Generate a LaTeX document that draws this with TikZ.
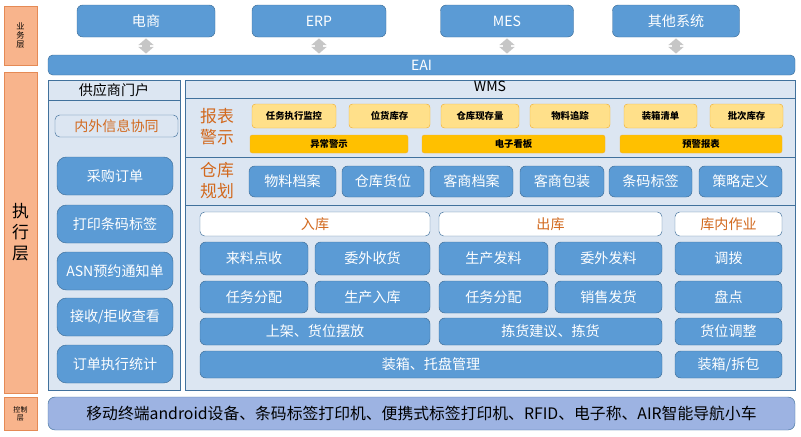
\documentclass[tikz,border=0pt]{standalone}
\usepackage{fontspec}
\setmainfont{Noto Sans CJK SC}
\usetikzlibrary{positioning,arrows.meta}

\definecolor{btnblue}{HTML}{5B9BD5}
\definecolor{btnedge}{HTML}{41719C}
\definecolor{panelfill}{HTML}{DCE6F2}
\definecolor{lblfill}{HTML}{F8B48C}
\definecolor{lbledge}{HTML}{E58A55}
\definecolor{lbltext}{HTML}{D2691E}
\definecolor{ylwfill}{HTML}{FFE08A}
\definecolor{ylwedge}{HTML}{F2B134}
\definecolor{goldfill}{HTML}{FFC000}
\definecolor{basefill}{HTML}{9DB3E2}

\tikzset{
  blue box/.style={rectangle,rounded corners=5pt,draw=btnedge,fill=btnblue,text=white,font=\large,inner sep=0pt},
  panel/.style={rectangle,draw=btnedge,fill=panelfill,inner sep=0pt},
  layer label/.style={rectangle,draw=lbledge,fill=lblfill,inner sep=0pt,align=center},
  head box/.style={rectangle,rounded corners=4pt,draw=btnedge,fill=white,text=lbltext,font=\large,inner sep=0pt},
  small box/.style={rectangle,rounded corners=3pt,draw=ylwedge,fill=ylwfill,font=\footnotesize\bfseries,inner sep=0pt},
  gold bar/.style={rectangle,rounded corners=2pt,draw=ylwedge,fill=goldfill,font=\footnotesize\bfseries,inner sep=0pt},
  link arrow/.style={draw=gray!45,line width=0.22cm,{Triangle[length=0.2cm,width=0.45cm]}-{Triangle[length=0.2cm,width=0.45cm]}}
}

\begin{document}
\begin{tikzpicture}[x=0.03cm,y=-0.03cm]
\useasboundingbox (0,0) rectangle (801,436);

% layers
\node[layer label,minimum width=33*0.03cm,minimum height=59*0.03cm,font=\scriptsize] (bizlayer) at (20.5,35.5) {业\\务\\层};
\node[layer label,minimum width=33*0.03cm,minimum height=321*0.03cm,font=\Large] (execlayer) at (20.5,232.5) {执\\行\\层};
\node[layer label,minimum width=33*0.03cm,minimum height=33*0.03cm,font=\fontsize{6}{7}\selectfont] (ctrllayer) at (20.5,413.5) {控制\\层};

% business systems
\foreach \n/\x/\w/\t in {ds/146/138/电商, erp/319/134/ERP, mes/507/133/MES, other/676/127/其他系统}
  \node[blue box,minimum width=\w*0.03cm,minimum height=32*0.03cm] (\n) at (\x,21) {\t};

\node[blue box,rounded corners=4pt,minimum width=747*0.03cm,minimum height=20*0.03cm] (eai) at (421.5,65) {EAI};

\foreach \n in {ds,erp,mes,other}
  \draw[link arrow] ([yshift=-1pt]\n.south) -- ([yshift=1pt]\n.south |- eai.north);

% supplier portal
\node[panel,minimum width=132*0.03cm,minimum height=310*0.03cm] (portal) at (114,235) {};
\node[panel,minimum width=132*0.03cm,minimum height=20*0.03cm,font=\large,anchor=north] (portalhead) at (portal.north) {供应商门户};
\node[head box,fill=panelfill,minimum width=123*0.03cm,minimum height=22*0.03cm] (coop) at (116.5,126) {内外信息协同};
\foreach \n/\y/\t in {po/176/采购订单, print/224/打印条码标签, asn/271/ASN预约通知单, recv/317/{接收/拒收查看}, stat/364/订单执行统计}
  \node[blue box,rounded corners=8pt,minimum width=116*0.03cm,minimum height=38*0.03cm] (\n) at (115,\y) {\t};

% WMS
\node[panel,minimum width=610*0.03cm,minimum height=310*0.03cm] (wms) at (490,235) {};
\node[anchor=north,font=\large,inner sep=1pt] (wmshead) at (wms.north) {WMS};
\foreach \y in {98,157,205}
  \draw[btnedge] (185,\y) -- (795,\y);

\node[text=lbltext,font=\Large,align=center,inner sep=0pt] (report) at (217,127) {报表\\警示};
\foreach \n/\x/\w/\t in {rp1/294/84/任务执行监控, rp2/389.5/81/位货库存, rp3/480/78/仓库现存量, rp4/570/80/物料追踪, rp5/660.5/73/装箱清单, rp6/746.5/73/批次库存}
  \node[small box,minimum width=\w*0.03cm,minimum height=24*0.03cm] (\n) at (\x,116) {\t};
\foreach \n/\x/\w/\t in {al1/329/158/异常警示, al2/513.5/183/电子看板, al3/701/162/预警报表}
  \node[gold bar,minimum width=\w*0.03cm,minimum height=18*0.03cm] (\n) at (\x,144) {\t};

\node[text=lbltext,font=\Large,align=center,inner sep=0pt] (plan) at (217,181) {仓库\\规划};
\foreach \n/\x/\w/\t in {pl1/292.5/87/物料档案, pl2/383/82/仓库货位, pl3/471.5/83/客商档案, pl4/562/84/客商包装, pl5/650.5/83/条码标签, pl6/740.5/83/策略定义}
  \node[blue box,minimum width=\w*0.03cm,minimum height=31*0.03cm] (\n) at (\x,181.5) {\t};

% in / out / inner operations
\foreach \n/\x/\w/\t in {inhead/315/230/入库, outhead/550.5/223/出库, ophead/728.5/107/库内作业}
  \node[head box,minimum width=\w*0.03cm,minimum height=24*0.03cm] (\n) at (\x,224) {\t};

\foreach \n/\x/\y/\w/\h/\t in {
  in1/254/258.5/108/33/来料点收, in2/372.5/258.5/115/33/委外收货,
  in3/254/297/108/32/任务分配, in4/372.5/297/115/32/生产入库,
  in5/315/331.5/230/27/上架、货位摆放,
  out1/493.5/258.5/109/33/生产发料, out2/608.5/258.5/107/33/委外发料,
  out3/493.5/297/109/32/任务分配, out4/608.5/297/107/32/销售发货,
  out5/550.5/331.5/223/27/拣货建议、拣货,
  pack/431/364.5/462/27/装箱、托盘管理,
  op1/728.5/258.5/107/33/调拨, op2/728.5/297/107/32/盘点,
  op3/728.5/331.5/107/27/货位调整, op4/728.5/364.5/107/27/{装箱/拆包}}
  \node[blue box,minimum width=\w*0.03cm,minimum height=\h*0.03cm] (\n) at (\x,\y) {\t};

% control layer
\node[blue box,rounded corners=6pt,fill=basefill,text=black,font=\fontsize{13.5}{16}\selectfont,minimum width=747*0.03cm,minimum height=33*0.03cm] (devices) at (421.5,413.5) {移动终端android设备、条码标签打印机、便携式标签打印机、RFID、电子称、AIR智能导航小车};

\end{tikzpicture}
\end{document}
